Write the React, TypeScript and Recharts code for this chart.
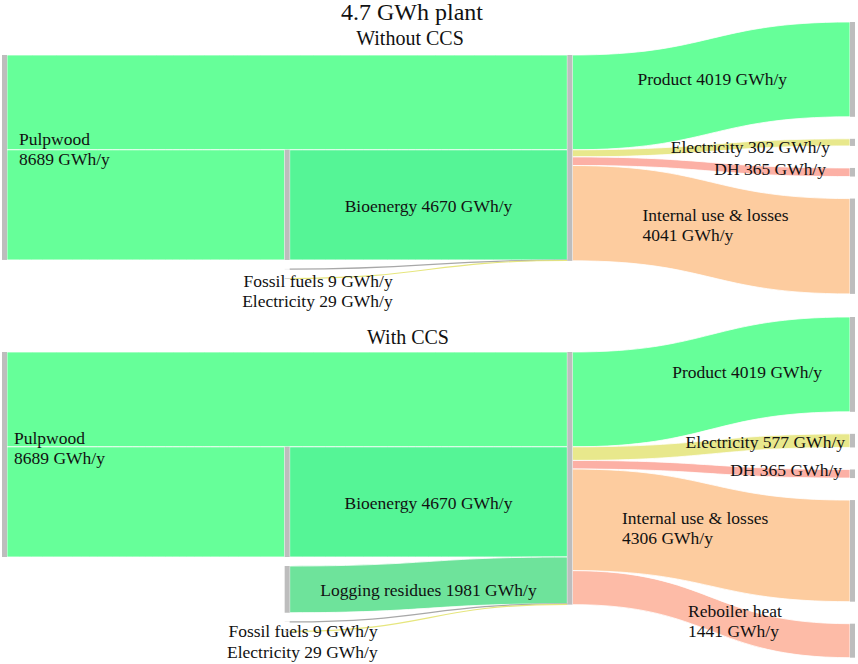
import React from 'react';
import { Sankey } from 'recharts';

// Energy flows of the 4.7 GWh plant, GWh/y.
// Nodes are listed column by column, top to bottom (layout runs with iterations=0,
// so this order is the drawing order inside each column).

const NAMES: Record<string, string> = {
  pulp: 'Pulpwood',
  bio: 'Bioenergy',
  logging: 'Logging residues',
  fossil: 'Fossil fuels',
  elecIn: 'Electricity',
  plant: '',
  product: 'Product',
  elecOut: 'Electricity',
  dh: 'DH',
  internal: 'Internal use & losses',
  reboiler: 'Reboiler heat',
};

// ---------------------------------------------------------------------------
// Without CCS
// ---------------------------------------------------------------------------
const TOP_ORDER = [
  '_t0', 'pulp', '_feed',
  '_t1', 'bio', 'fossil', 'elecIn',
  '_t2', 'plant',
  'product', '_g1', 'elecOut', '_g2', 'dh', '_g3', 'internal', '_sink',
];
const TOP_FLOWS: [string, string, number][] = [
  ['pulp', 'plant', 4019],
  ['pulp', 'bio', 4670],
  ['bio', 'plant', 4670],
  ['fossil', 'plant', 9],
  ['elecIn', 'plant', 29],
  ['plant', 'product', 4019],
  ['plant', 'elecOut', 302],
  ['plant', 'dh', 365],
  ['plant', 'internal', 4041],
];
// hidden flows that only push the visible nodes into place
const TOP_SPACERS: [string, string, number][] = [
  ['_t0', '_t1', 1017],
  ['_t1', '_t2', 1017],
  ['_t1', '_sink', 4019],
  ['_t2', '_g1', 170],
  ['_t2', '_g2', 170],
  ['_t2', '_g3', 170],
];

// ---------------------------------------------------------------------------
// With CCS
// ---------------------------------------------------------------------------
const BOT_ORDER = [
  '_t0', 'pulp', '_feed',
  '_t1', 'bio', 'logging', 'fossil', 'elecIn',
  '_t2', 'plant',
  'product', '_g1', 'elecOut', '_g2', 'dh', '_g3', 'internal', '_g4', 'reboiler', '_sink',
];
const BOT_FLOWS: [string, string, number][] = [
  ['pulp', 'plant', 4019],
  ['pulp', 'bio', 4670],
  ['bio', 'plant', 4670],
  ['logging', 'plant', 1981],
  ['fossil', 'plant', 9],
  ['elecIn', 'plant', 29],
  ['plant', 'product', 4019],
  ['plant', 'elecOut', 577],
  ['plant', 'dh', 365],
  ['plant', 'internal', 4306],
  ['plant', 'reboiler', 1441],
];
const BOT_SPACERS: [string, string, number][] = [
  ['_t0', '_t1', 1102],
  ['_t1', '_t2', 1102],
  ['_t1', '_sink', 4019],
  ['_t2', '_g1', 170],
  ['_t2', '_g2', 170],
  ['_t2', '_g3', 170],
  ['_t2', '_g4', 170],
];

// inputs that enter in the middle column get a hidden feeder
const FED = ['logging', 'fossil', 'elecIn'];

const COLORS: Record<string, string> = {
  pulp: '#66ff99',
  bio: '#55f596',
  logging: '#6ee39b',
  fossil: '#a8a8a8',
  elecIn: '#e6e67e',
  product: '#66ff99',
  elecOut: '#e8e88c',
  dh: '#fcb0a5',
  internal: '#fdcc9f',
  reboiler: '#fdbba7',
};
const NODE_GREY = '#bdbdbd';
const FONT = "'Liberation Serif', 'Times New Roman', serif";
const FS = 17.5;
const LINE_STEP = 20;

type LabelPos = { anchor: 'start' | 'end' | 'middle'; dx: number; dy: number };

const TOP_LABELS: Record<string, LabelPos> = {
  pulp: { anchor: 'start', dx: 17, dy: -12.5 },
  product: { anchor: 'end', dx: -63, dy: 15.5 },
  elecOut: { anchor: 'end', dx: -20, dy: 10.5 },
  dh: { anchor: 'end', dx: -24, dy: 2.7 },
  internal: { anchor: 'start', dx: -207.5, dy: -25.6 },
  fossil: { anchor: 'end', dx: 108, dy: 18 },
  elecIn: { anchor: 'end', dx: 108, dy: 28.5 },
};

const BOT_LABELS: Record<string, LabelPos> = {
  pulp: { anchor: 'start', dx: 12, dy: -10.5 },
  product: { anchor: 'end', dx: -28, dy: 13.6 },
  elecOut: { anchor: 'end', dx: -5, dy: 7.4 },
  dh: { anchor: 'end', dx: -8, dy: 2.3 },
  internal: { anchor: 'start', dx: -228, dy: -26.8 },
  reboiler: { anchor: 'start', dx: -162, dy: -23.6 },
  fossil: { anchor: 'end', dx: 93, dy: 15.5 },
  elecIn: { anchor: 'end', dx: 93, dy: 27 },
};

const TWO_LINE = new Set(['pulp', 'internal', 'reboiler']);
const BAND_LABELS = new Set(['bio', 'logging']);

function buildData(order: string[], flows: [string, string, number][], spacers: [string, string, number][]) {
  const nodes = order.map((id) => ({ id, name: NAMES[id] ?? '' }));
  const feeds: [string, string, number][] = flows
    .filter(([s]) => FED.includes(s) && order.includes(s))
    .map(([s, , v]) => ['_feed', s, v]);
  const links = [...flows, ...feeds, ...spacers].map(([s, t, v]) => ({
    source: order.indexOf(s),
    target: order.indexOf(t),
    value: v,
  }));
  return { nodes, links };
}

const TOP_DATA = buildData(TOP_ORDER, TOP_FLOWS, TOP_SPACERS);
const BOT_DATA = buildData(BOT_ORDER, BOT_FLOWS, BOT_SPACERS);

function labelLines(id: string, value: number): string[] {
  const name = NAMES[id];
  if (!name) return [];
  if (TWO_LINE.has(id)) return [name, `${value} GWh/y`];
  return [`${name} ${value} GWh/y`];
}

function makeNode(labels: Record<string, LabelPos>) {
  return (props: any) => {
    const { x, y, width, height, payload } = props;
    const id: string = payload.id;
    if (id.startsWith('_')) return <g />;
    const cfg = labels[id];
    const cy = y + height / 2;
    return (
      <g>
        <rect x={x} y={y} width={width} height={height} fill={NODE_GREY} />
        {cfg &&
          labelLines(id, payload.value).map((line, i) => (
            <text
              key={i}
              x={x + cfg.dx}
              y={cy + cfg.dy + i * LINE_STEP}
              textAnchor={cfg.anchor}
              fontFamily={FONT}
              fontSize={FS}
              fill="#111"
            >
              {line}
            </text>
          ))}
      </g>
    );
  };
}

const renderLink = (props: any) => {
  const { sourceX, targetX, sourceY, targetY, sourceControlX, targetControlX, linkWidth, payload } = props;
  const s: string = payload.source.id;
  const t: string = payload.target.id;
  if (s.startsWith('_') || t.startsWith('_')) return <g />;
  const color = s === 'plant' ? COLORS[t] : COLORS[s];
  if (linkWidth < 1.5) {
    return (
      <path
        d={`M${sourceX},${sourceY}C${sourceControlX},${sourceY} ${targetControlX},${targetY} ${targetX},${targetY}`}
        fill="none"
        stroke={color}
        strokeWidth={1.2}
      />
    );
  }
  const h = linkWidth / 2;
  const d =
    `M${sourceX},${sourceY - h}C${sourceControlX},${sourceY - h} ${targetControlX},${targetY - h} ${targetX},${targetY - h}` +
    `L${targetX},${targetY + h}C${targetControlX},${targetY + h} ${sourceControlX},${sourceY + h} ${sourceX},${sourceY + h}Z`;
  const showLabel = BAND_LABELS.has(s) && t === 'plant';
  return (
    <g>
      <path d={d} fill={color} stroke="#fff" strokeWidth={0.8} />
      {showLabel && (
        <text
          x={(sourceX + targetX) / 2}
          y={sourceY + 7}
          textAnchor="middle"
          fontFamily={FONT}
          fontSize={FS}
          fill="#111"
        >
          {`${NAMES[s]} ${payload.value} GWh/y`}
        </text>
      )}
    </g>
  );
};

export default function App() {
  return (
    <div
      style={{
        position: 'absolute',
        left: 0,
        top: 0,
        width: 858,
        height: 664,
        overflow: 'hidden',
        background: '#fff',
      }}
    >
      <div style={{ position: 'absolute', left: 0, top: 0 }}>
        <Sankey
          width={858}
          height={397.7}
          data={TOP_DATA}
          margin={{ top: 22, right: 3, bottom: 0, left: 2 }}
          nodeWidth={5}
          nodePadding={9}
          iterations={0}
          node={makeNode(TOP_LABELS)}
          link={renderLink}
        />
      </div>
      <div style={{ position: 'absolute', left: 0, top: 300 }}>
        <Sankey
          width={858}
          height={461.5}
          data={BOT_DATA}
          margin={{ top: 17, right: 3, bottom: 0, left: 2 }}
          nodeWidth={5}
          nodePadding={9}
          iterations={0}
          node={makeNode(BOT_LABELS)}
          link={renderLink}
        />
      </div>
      <svg
        width={858}
        height={664}
        style={{ position: 'absolute', left: 0, top: 0, pointerEvents: 'none' }}
      >
        <text x={412} y={20} textAnchor="middle" fontFamily={FONT} fontSize={24} fill="#111">
          4.7 GWh plant
        </text>
        <text x={410} y={45} textAnchor="middle" fontFamily={FONT} fontSize={20} fill="#111">
          Without CCS
        </text>
        <text x={408} y={344} textAnchor="middle" fontFamily={FONT} fontSize={20} fill="#111">
          With CCS
        </text>
      </svg>
    </div>
  );
}
